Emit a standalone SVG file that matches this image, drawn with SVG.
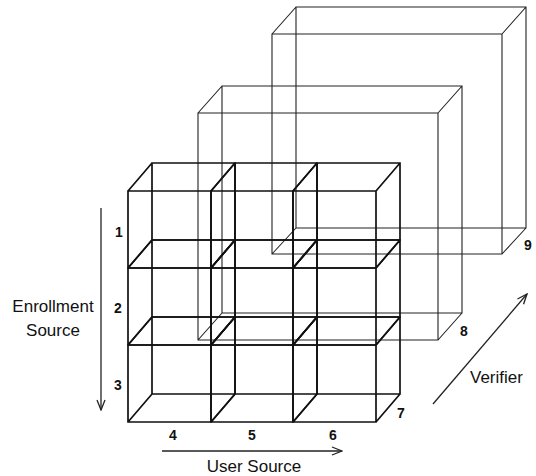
<svg xmlns="http://www.w3.org/2000/svg" width="536" height="476" viewBox="0 0 536 476">
<style>
.cube{fill:none;stroke:#111;stroke-width:1.7}
.box{fill:none;stroke:#222;stroke-width:1.1}
.arr{fill:none;stroke:#222;stroke-width:1.3}
.lbl{font-family:"Liberation Sans",Arial,sans-serif;font-size:17px;fill:#111}
.num{font-family:"Liberation Sans",Arial,sans-serif;font-size:14px;font-weight:bold;fill:#111;text-anchor:middle}
</style>
<defs>
<marker id="open" viewBox="0 0 12 10" refX="11" refY="5" markerWidth="12" markerHeight="10" markerUnits="userSpaceOnUse" orient="auto">
<path d="M1,1 L11,5 L1,9" fill="none" stroke="#222" stroke-width="1.3"/>
</marker>
</defs>
<rect width="536" height="476" fill="#fff"/>

<g id="verifier-9">
<path class="box" d="M272,34 H502 V254 H272 Z M296,7 H526 V228 H296 Z M272,34 L296,7 M502,34 L526,7 M502,254 L526,228 M272,254 L296,228"/>
<text class="num" x="528" y="250">9</text>
</g>
<g id="verifier-8">
<path class="box" d="M198,113 H438 V340 H198 Z M222,86 H462 V313 H222 Z M198,113 L222,86 M438,113 L462,86 M438,340 L462,313 M198,340 L222,313"/>
<text class="num" x="464" y="336">8</text>
</g>

<g id="cube-1-4">
<path class="cube" d="M128,191 H211 V268 H128 Z M152,163 H235 V240 H152 Z M128,191 L152,163 M211,191 L235,163 M211,268 L235,240 M128,268 L152,240"/>
</g>
<g id="cube-1-5">
<path class="cube" d="M211,191 H293 V268 H211 Z M235,163 H317 V240 H235 Z M211,191 L235,163 M293,191 L317,163 M293,268 L317,240 M211,268 L235,240"/>
</g>
<g id="cube-1-6">
<path class="cube" d="M293,191 H376 V268 H293 Z M317,163 H400 V240 H317 Z M293,191 L317,163 M376,191 L400,163 M376,268 L400,240 M293,268 L317,240"/>
</g>
<g id="cube-2-4">
<path class="cube" d="M128,268 H211 V345 H128 Z M152,240 H235 V317 H152 Z M128,268 L152,240 M211,268 L235,240 M211,345 L235,317 M128,345 L152,317"/>
</g>
<g id="cube-2-5">
<path class="cube" d="M211,268 H293 V345 H211 Z M235,240 H317 V317 H235 Z M211,268 L235,240 M293,268 L317,240 M293,345 L317,317 M211,345 L235,317"/>
</g>
<g id="cube-2-6">
<path class="cube" d="M293,268 H376 V345 H293 Z M317,240 H400 V317 H317 Z M293,268 L317,240 M376,268 L400,240 M376,345 L400,317 M293,345 L317,317"/>
</g>
<g id="cube-3-4">
<path class="cube" d="M128,345 H211 V422 H128 Z M152,317 H235 V394 H152 Z M128,345 L152,317 M211,345 L235,317 M211,422 L235,394 M128,422 L152,394"/>
</g>
<g id="cube-3-5">
<path class="cube" d="M211,345 H293 V422 H211 Z M235,317 H317 V394 H235 Z M211,345 L235,317 M293,345 L317,317 M293,422 L317,394 M211,422 L235,394"/>
</g>
<g id="cube-3-6">
<path class="cube" d="M293,345 H376 V422 H293 Z M317,317 H400 V394 H317 Z M293,345 L317,317 M376,345 L400,317 M376,422 L400,394 M293,422 L317,394"/>
</g>

<g id="index-labels">
<text class="num" x="119" y="237">1</text>
<text class="num" x="118" y="313">2</text>
<text class="num" x="118" y="390">3</text>
<text class="num" x="173" y="440">4</text>
<text class="num" x="252" y="440">5</text>
<text class="num" x="333" y="440">6</text>
<text class="num" x="401" y="418">7</text>
</g>

<g id="connectors">
<line class="arr" x1="101" y1="208" x2="101" y2="410" marker-end="url(#open)"/>
<line class="arr" x1="162" y1="451" x2="342" y2="451" marker-end="url(#open)"/>
<line class="arr" x1="433" y1="404" x2="527" y2="294" marker-end="url(#open)"/>
</g>

<g id="axis-enrollment">
<text class="lbl" x="53" y="312" text-anchor="middle">Enrollment</text>
<text class="lbl" x="53" y="336" text-anchor="middle">Source</text>
</g>
<g id="axis-user">
<text class="lbl" x="254" y="472" text-anchor="middle">User Source</text>
</g>
<g id="axis-verifier">
<text class="lbl" x="470" y="383">Verifier</text>
</g>
</svg>
